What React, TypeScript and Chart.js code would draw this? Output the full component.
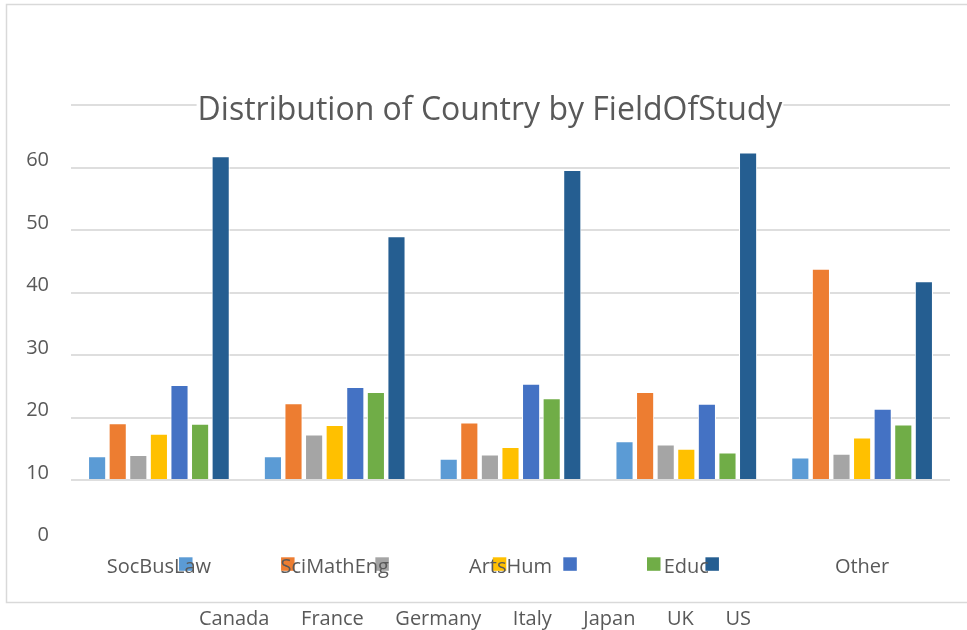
import React, { useEffect, useRef } from "react";
import { Chart, registerables } from "chart.js";

Chart.register(...registerables);

const fields = ["SocBusLaw", "SciMathEng", "ArtsHum", "Educ", "Other"];
const countries = ["Canada", "France", "Germany", "Italy", "Japan", "UK", "US"];
const canada = [13.8, 13.8, 13.4, 16.2, 13.6];
const france = [19.1, 22.3, 19.2, 24.1, 43.8];
const germany = [14.0, 17.3, 14.1, 15.7, 14.2];
const italy = [17.4, 18.8, 15.3, 15.0, 16.8];
const japan = [25.2, 24.9, 25.4, 22.2, 21.4];
const uk = [19.0, 24.1, 23.1, 14.4, 18.9];
const us = [61.8, 49.0, 59.6, 62.4, 41.8];
const seriesValues = [canada, france, germany, italy, japan, uk, us];
const colors = ["#5B9BD5", "#ED7D31", "#A5A5A5", "#FFC000", "#4472C4", "#70AD47", "#255E91"];
const yTickValues = [0, 10, 20, 30, 40, 50, 60, 70];
const titleText = "Distribution of Country by FieldOfStudy";

const FAMILY = '"Open Sans", "DejaVu Sans", sans-serif';
const TEXT = "#595959";

function legendLayout(ctx: CanvasRenderingContext2D) {
  ctx.font = `20px ${FAMILY}`;
  const box = 13.5;
  const gap = 6.5;
  const pad = 11.6;
  const widths = countries.map((c) => ctx.measureText(c).width);
  const total = widths.reduce((a, w) => a + box + gap + w, 0) + pad * (countries.length - 1);
  let x = 465 - total / 2;
  return countries.map((c, i) => {
    const item = { label: c, boxX: x, textX: x + box + gap, color: colors[i], box };
    x += box + gap + widths[i] + pad;
    return item;
  });
}

const decor = {
  id: "decor",
  beforeDraw(chart: any) {
    const ctx = chart.ctx as CanvasRenderingContext2D;
    ctx.save();
    ctx.fillStyle = "#ffffff";
    ctx.fillRect(0, 0, chart.width, chart.height);
    ctx.strokeStyle = "#d9d9d9";
    ctx.lineWidth = 1.5;
    ctx.strokeRect(6.5, 4.5, 975, 598);
    const items = legendLayout(ctx);
    for (const it of items) {
      ctx.fillStyle = it.color;
      ctx.fillRect(it.boxX, 557.3, it.box, it.box);
    }
    ctx.restore();
  },
  afterDraw(chart: any) {
    const ctx = chart.ctx as CanvasRenderingContext2D;
    ctx.save();
    ctx.font = `32px ${FAMILY}`;
    const tw = ctx.measureText(titleText).width;
    const cx = 490;
    ctx.fillStyle = "#ffffff";
    ctx.fillRect(cx - tw / 2 - 1, 92, tw + 2, 34);
    ctx.fillStyle = TEXT;
    ctx.textAlign = "center";
    ctx.textBaseline = "alphabetic";
    ctx.fillText(titleText, cx, 119.5);
    const items = legendLayout(ctx);
    ctx.font = `20px ${FAMILY}`;
    ctx.textAlign = "left";
    ctx.fillStyle = TEXT;
    for (const it of items) {
      ctx.fillText(it.label, it.textX, 625);
    }
    ctx.restore();
  },
};

export default function App() {
  const ref = useRef<HTMLCanvasElement | null>(null);
  useEffect(() => {
    if (!ref.current) return;
    const chart = new Chart(ref.current, {
      type: "bar",
      data: {
        labels: fields,
        datasets: countries.map((c, i) => ({
          label: c,
          data: seriesValues[i],
          backgroundColor: colors[i],
          borderColor: "#ffffff",
          borderWidth: 1,
          base: 10,
          categoryPercentage: 0.82,
          barPercentage: 0.88,
        })),
      },
      options: {
        animation: false,
        responsive: true,
        maintainAspectRatio: false,
        layout: { padding: { left: 0, right: 17, top: 105, bottom: 37.5 } },
        plugins: {
          legend: { display: false },
          title: { display: false },
          tooltip: { enabled: false },
        },
        scales: {
          x: {
            grid: { display: false },
            border: { display: false },
            ticks: {
              color: TEXT,
              font: { family: FAMILY, size: 20 },
              padding: 4.5,
              autoSkip: false,
              maxRotation: 0,
            },
            afterFit: (s: any) => {
              s.height = 50;
            },
          },
          y: {
            min: 0,
            max: 70,
            border: { display: false },
            grid: {
              drawTicks: false,
              lineWidth: 2,
              color: (c: any) => (c.tick && c.tick.value === 0 ? "rgba(0,0,0,0)" : "#dedede"),
            },
            afterBuildTicks: (s: any) => {
              s.ticks = yTickValues.map((v) => ({ value: v }));
            },
            ticks: {
              color: TEXT,
              font: { family: FAMILY, size: 20 },
              padding: 22,
              labelOffset: -7,
              callback: (v: any) => (v === 70 ? "" : String(v)),
            },
            afterFit: (s: any) => {
              s.width = 71;
            },
          },
        },
      },
      plugins: [decor],
    });
    return () => chart.destroy();
  }, []);
  return (
    <div style={{ position: "fixed", left: 0, top: 0, width: 967, height: 630 }}>
      <canvas ref={ref} />
    </div>
  );
}
